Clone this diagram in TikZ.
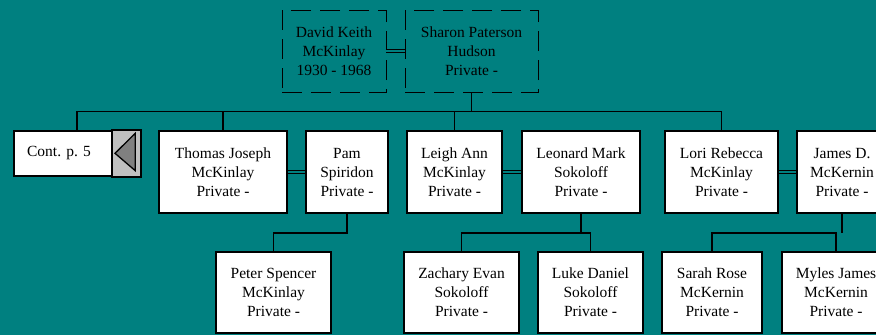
\documentclass[tikz,border=0pt]{standalone}
\usepackage[RGB]{xcolor}
\usepackage{fontspec}
\setmainfont{Liberation Serif}
\usepackage{tikz}
\definecolor{sea}{RGB}{0,128,128}
\definecolor{tab}{RGB}{192,192,192}
\definecolor{tip}{RGB}{128,128,128}
\newcommand{\drawlink}{\draw[line width=1.6pt]}
\newcommand{\marry}[2]{\draw[line width=1pt,double=sea,double distance=2pt] (#1.east)--(#2.west);}
\tikzset{
  person/.style={draw,fill=white,line width=1.8pt,align=center,minimum height=82pt,inner sep=0pt,font=\fontsize{15.5}{19}\selectfont},
  ghost/.style={draw,line width=0.9pt,dash pattern=on 20pt off 9pt,align=center,minimum height=82pt,inner sep=0pt,font=\fontsize{15.5}{19}\selectfont}
}
\begin{document}
\begin{tikzpicture}[x=1pt,y=-1pt]
\useasboundingbox (0,0) rectangle (876,335);
\clip (0,0) rectangle (876,335);
\fill[sea] (0,0) rectangle (876,335);
\node[ghost,minimum width=104pt] (david) at (334,51) {David Keith\\McKinlay\\1930 - 1968};
\node[ghost,minimum width=133pt] (sharon) at (471.5,51) {Sharon Paterson\\Hudson\\Private -};
\node[person,minimum width=126pt,minimum height=45pt] (cont) at (77,153.5) {};
\node[font=\fontsize{15.5}{19}\selectfont] (conttext) at (59,153.5) {Cont. p. 5};
\draw[fill=tab,line width=1.8pt] (cont.north east)++(-29,0) rectangle (cont.south east);
\draw[fill=tip,line width=1.3pt] (115,153.3)--(135.3,133.3)--(135.3,170.7)--cycle;
\node[person,minimum width=128pt] (thomas) at (223,172) {Thomas Joseph\\McKinlay\\Private -};
\node[person,minimum width=82pt] (pam) at (347,172) {Pam\\Spiridon\\Private -};
\node[person,minimum width=95pt] (leigh) at (454.5,172) {Leigh Ann\\McKinlay\\Private -};
\node[person,minimum width=118pt] (leonard) at (581,172) {Leonard Mark\\Sokoloff\\Private -};
\node[person,minimum width=113pt] (lori) at (721.5,172) {Lori Rebecca\\McKinlay\\Private -};
\node[person,minimum width=90pt] (james) at (842,172) {James D.\\McKernin\\Private -};
\node[person,minimum width=115pt,minimum height=81pt] (peter) at (273.5,292.5) {Peter Spencer\\McKinlay\\Private -};
\node[person,minimum width=115pt,minimum height=81pt] (zachary) at (461.5,292.5) {Zachary Evan\\Sokoloff\\Private -};
\node[person,minimum width=105pt,minimum height=81pt] (luke) at (590.5,292.5) {Luke Daniel\\Sokoloff\\Private -};
\node[person,minimum width=100pt,minimum height=81pt] (sarah) at (712,292.5) {Sarah Rose\\McKernin\\Private -};
\node[person,minimum width=108pt,minimum height=81pt] (myles) at (836,292.5) {Myles James\\McKernin\\Private -};
\coordinate (bar) at (0,111.5);
\coordinate (kidbar) at (0,233);
\marry{david}{sharon}\marry{thomas}{pam}\marry{leigh}{leonard}\marry{lori}{james}
\drawlink (sharon.south)--(sharon.south |- bar);
\drawlink (cont.north) |- (lori.north |- bar)--(lori.north);
\drawlink (thomas.north)--(thomas.north |- bar);
\drawlink (leigh.north)--(leigh.north |- bar);
\drawlink (pam.south) |- (peter.north |- kidbar)--(peter.north);
\drawlink (zachary.north) |- (luke.north |- kidbar)--(luke.north);
\drawlink (leonard.south)--(leonard.south |- kidbar);
\drawlink (sarah.north) |- (myles.north |- kidbar)--(myles.north);
\drawlink (james.south)--(james.south |- kidbar);
\end{tikzpicture}
\end{document}
